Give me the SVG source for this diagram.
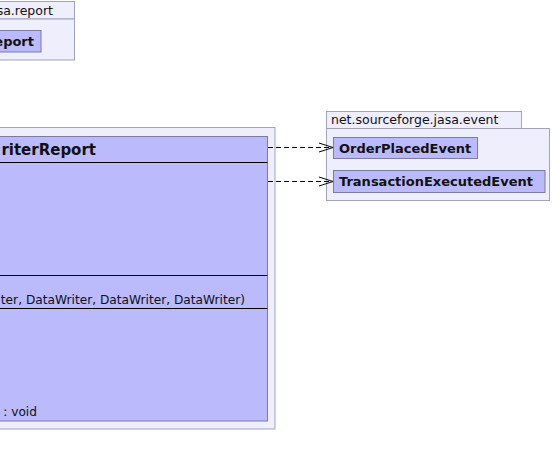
<svg xmlns="http://www.w3.org/2000/svg" width="552" height="467" viewBox="0 0 552 467">
<style>
.pkg{fill:#eeeefd;stroke:#a3a3b8;stroke-width:1}
.cls{fill:#babafd;stroke:#7b7ba3;stroke-width:1}
.sep{stroke:#000;stroke-width:1}
text{font-family:"DejaVu Sans",sans-serif;fill:#111}
.pl{font-size:12.5px}
.cn{font-size:13px;font-weight:bold}
.hd{font-size:15px;font-weight:bold}
.mb{font-size:12.2px}
.dep{fill:none;stroke:#000;stroke-width:1;stroke-dasharray:5,3}
.ah{fill:none;stroke:#000;stroke-width:1}
</style>
<rect width="552" height="467" fill="#fff"/>
<g id="pkg-report">
<rect class="pkg" x="-10" y="1.5" width="84.5" height="17.5"/>
<rect class="pkg" x="-10" y="19" width="84.5" height="41"/>
<text class="pl" x="53" y="15" text-anchor="end">sa.report</text>
<g id="cls-report">
<rect class="cls" x="-10" y="30.5" width="51" height="21.5"/>
<text class="cn" x="34" y="46" text-anchor="end">eport</text>
</g>
</g>
<g id="pkg-main">
<rect class="pkg" x="-10" y="127.5" width="285" height="301.5"/>
<g id="cls-main">
<rect class="cls" x="-10" y="136.5" width="277.5" height="284.5"/>
<line class="sep" x1="-10" y1="162.5" x2="267.5" y2="162.5"/>
<line class="sep" x1="-10" y1="275.5" x2="267.5" y2="275.5"/>
<line class="sep" x1="-10" y1="308.5" x2="267.5" y2="308.5"/>
<text class="hd" x="96" y="155" text-anchor="end">riterReport</text>
<text class="mb" x="245" y="304" text-anchor="end">ter, DataWriter, DataWriter, DataWriter)</text>
<text class="mb" x="37" y="416" text-anchor="end">: void</text>
</g>
</g>
<g id="pkg-event">
<rect class="pkg" x="326.5" y="111.5" width="195" height="17"/>
<rect class="pkg" x="326.5" y="128.5" width="223" height="72"/>
<text class="pl" x="331" y="124">net.sourceforge.jasa.event</text>
<g id="cls-order">
<rect class="cls" x="333.5" y="137.5" width="144" height="21"/>
<text class="cn" x="339" y="153">OrderPlacedEvent</text>
</g>
<g id="cls-trans">
<rect class="cls" x="333.5" y="170.5" width="211.5" height="22"/>
<text class="cn" x="339" y="186">TransactionExecutedEvent</text>
</g>
</g>
<g id="connectors">
<line class="dep" x1="268" y1="147.5" x2="332" y2="147.5"/>
<polyline class="ah" points="319,143 333,147.5 319,152"/>
<line class="dep" x1="268" y1="181.5" x2="332" y2="181.5"/>
<polyline class="ah" points="319,177 333,181.5 319,186"/>
</g>
</svg>
